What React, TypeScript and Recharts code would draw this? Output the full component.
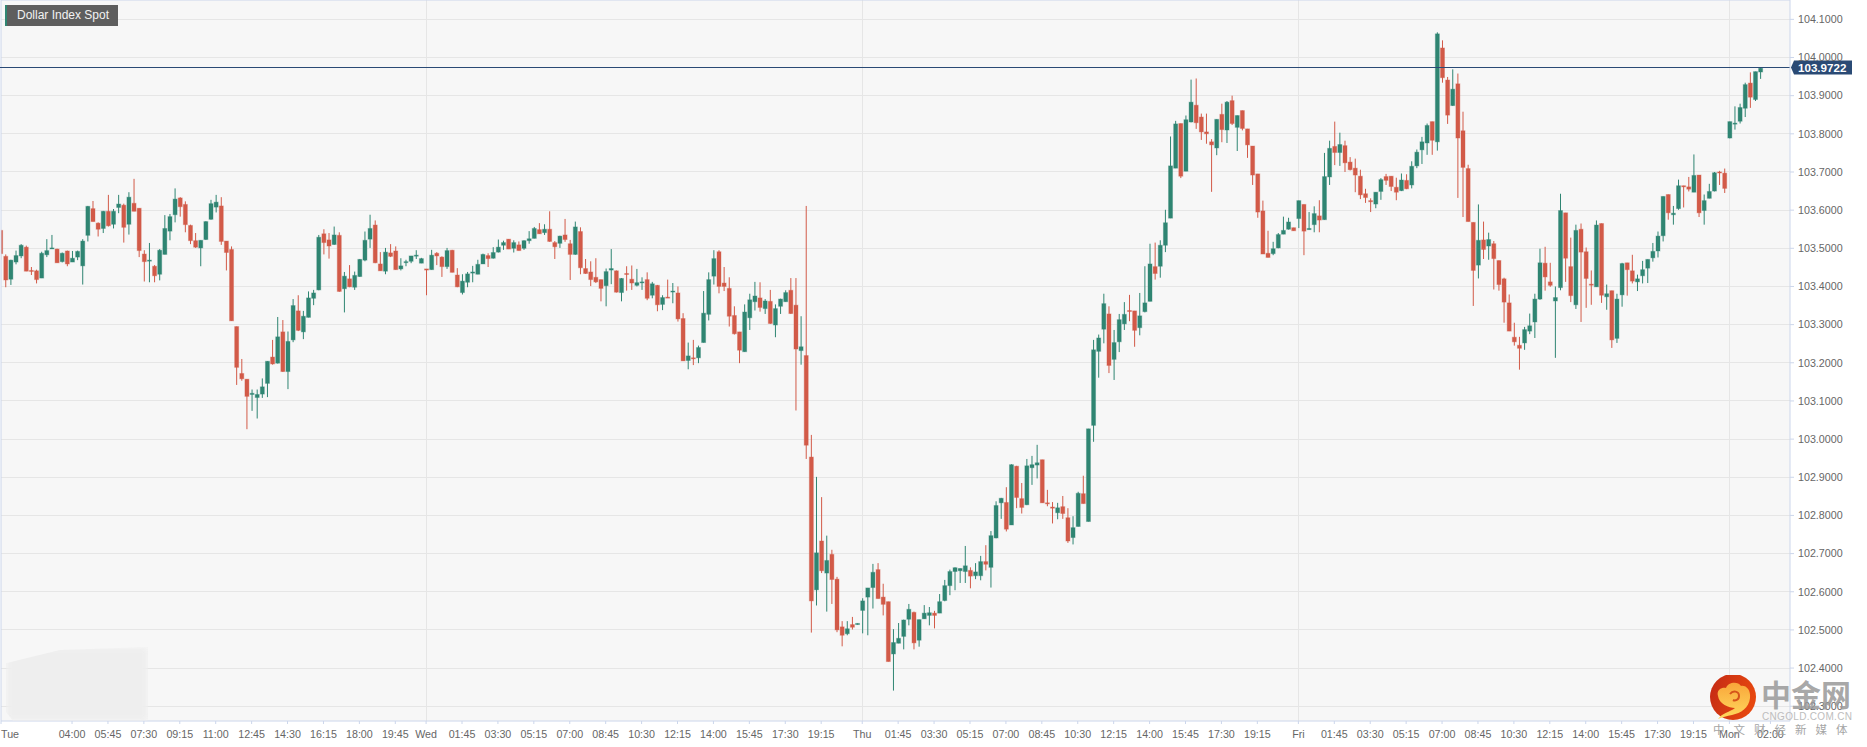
import React from 'react';
import {
  ComposedChart, Bar, XAxis, YAxis, CartesianGrid, ReferenceLine,
} from 'recharts';

// 15 minute candles
const opens = [
  103.547,103.479,103.419,103.464,103.480,103.503,103.442,103.441,103.422,103.483,
  103.499,103.498,103.465,103.493,103.464,103.477,103.454,103.534,103.604,103.566,
  103.552,103.597,103.563,103.607,103.613,103.563,103.618,103.605,103.485,103.467,
  103.453,103.432,103.484,103.545,103.588,103.632,103.615,103.560,103.520,103.501,
  103.523,103.576,103.608,103.611,103.519,103.497,103.295,103.172,103.157,103.117,
  103.109,103.118,103.146,103.215,103.199,103.281,103.177,103.260,103.336,103.281,
  103.319,103.369,103.391,103.538,103.522,103.510,103.534,103.394,103.420,103.398,
  103.426,103.469,103.524,103.561,103.459,103.440,103.488,103.493,103.446,103.463,
  103.466,103.480,103.461,103.446,103.444,103.487,103.477,103.452,103.495,103.430,
  103.384,103.411,103.435,103.432,103.459,103.481,103.474,103.490,103.508,103.524,
  103.500,103.509,103.500,103.520,103.526,103.549,103.541,103.550,103.515,103.513,
  103.535,103.512,103.484,103.544,103.447,103.438,103.424,103.418,103.402,103.443,
  103.441,103.384,103.434,103.419,103.403,103.410,103.418,103.377,103.403,103.353,
  103.372,103.386,103.383,103.316,103.206,103.213,103.213,103.253,103.327,103.427,
  103.491,103.409,103.395,103.324,103.281,103.229,103.318,103.360,103.370,103.342,
  103.361,103.299,103.348,103.360,103.390,103.351,103.232,103.219,102.953,102.605,
  102.733,102.649,102.698,102.633,102.508,102.490,102.514,102.514,102.551,102.586,
  102.611,102.658,102.586,102.574,102.437,102.465,102.483,102.528,102.546,102.473,
  102.529,102.538,102.544,102.544,102.577,102.616,102.653,102.655,102.653,102.656,
  102.642,102.642,102.679,102.664,102.741,102.833,102.834,102.775,102.929,102.844,
  102.828,102.925,102.932,102.946,102.833,102.822,102.807,102.823,102.794,102.742,
  102.771,102.857,102.784,103.036,103.230,103.288,103.328,103.209,103.255,103.302,
  103.337,103.336,103.292,103.334,103.361,103.452,103.453,103.508,103.579,103.710,
  103.827,103.702,103.831,103.875,103.844,103.805,103.779,103.763,103.851,103.810,
  103.887,103.817,103.861,103.813,103.768,103.695,103.598,103.487,103.486,103.501,
  103.537,103.550,103.554,103.578,103.615,103.549,103.562,103.585,103.575,103.687,
  103.767,103.751,103.769,103.726,103.710,103.689,103.643,103.625,103.616,103.649,
  103.688,103.689,103.660,103.651,103.678,103.666,103.716,103.758,103.776,103.832,
  103.779,104.025,103.941,103.874,103.931,103.808,103.709,103.568,103.456,103.522,
  103.506,103.512,103.468,103.420,103.357,103.267,103.246,103.252,103.283,103.307,
  103.367,103.461,103.412,103.362,103.397,103.593,103.452,103.352,103.550,103.491,
  103.406,103.399,103.565,103.373,103.389,103.264,103.378,103.462,103.441,103.412,
  103.428,103.448,103.475,103.493,103.533,103.641,103.588,103.604,103.664,103.661,
  103.647,103.692,103.599,103.631,103.650,103.700,103.697,103.789,103.826,103.833,
  103.867,103.933,103.890,103.962,
];

const highs = [
  103.549,103.484,103.470,103.494,103.511,103.507,103.451,103.444,103.491,103.524,
  103.535,103.499,103.489,103.494,103.493,103.494,103.524,103.611,103.624,103.568,
  103.598,103.640,103.603,103.640,103.617,103.647,103.682,103.605,103.495,103.514,
  103.456,103.498,103.587,103.590,103.657,103.634,103.623,103.562,103.540,103.521,
  103.571,103.627,103.640,103.634,103.519,103.505,103.295,103.210,103.157,103.130,
  103.130,103.159,103.204,103.260,103.320,103.312,103.282,103.367,103.377,103.336,
  103.387,103.391,103.535,103.550,103.540,103.557,103.542,103.438,103.456,103.439,
  103.472,103.544,103.588,103.573,103.490,103.501,103.511,103.505,103.474,103.470,
  103.480,103.495,103.475,103.446,103.496,103.490,103.479,103.501,103.496,103.448,
  103.432,103.438,103.454,103.470,103.486,103.487,103.503,103.523,103.520,103.524,
  103.521,103.518,103.521,103.545,103.556,103.566,103.563,103.597,103.519,103.533,
  103.577,103.522,103.570,103.555,103.472,103.466,103.474,103.418,103.447,103.498,
  103.442,103.422,103.453,103.455,103.446,103.424,103.437,103.412,103.404,103.377,
  103.418,103.409,103.400,103.330,103.253,103.260,103.245,103.388,103.437,103.495,
  103.495,103.451,103.424,103.348,103.281,103.353,103.381,103.412,103.411,103.367,
  103.391,103.353,103.368,103.390,103.422,103.422,103.322,103.611,103.011,102.901,
  102.848,102.747,102.710,102.639,102.523,102.523,102.534,102.517,102.583,102.610,
  102.673,102.675,102.621,102.574,102.502,102.518,102.527,102.568,102.548,102.527,
  102.565,102.560,102.550,102.594,102.631,102.658,102.664,102.661,102.720,102.664,
  102.675,102.694,102.722,102.759,102.837,102.846,102.874,102.934,102.930,102.885,
  102.948,102.956,102.985,102.946,102.867,102.835,102.833,102.851,102.819,102.798,
  102.862,102.904,103.027,103.260,103.274,103.381,103.348,103.286,103.328,103.359,
  103.378,103.336,103.383,103.453,103.512,103.515,103.521,103.601,103.793,103.834,
  103.827,103.848,103.942,103.945,103.853,103.853,103.786,103.838,103.879,103.886,
  103.900,103.848,103.861,103.813,103.768,103.695,103.625,103.546,103.517,103.540,
  103.583,103.580,103.554,103.625,103.615,103.595,103.610,103.626,103.750,103.782,
  103.832,103.803,103.782,103.739,103.735,103.706,103.656,103.631,103.647,103.684,
  103.695,103.689,103.685,103.696,103.694,103.728,103.759,103.792,103.827,103.832,
  104.066,104.045,103.949,103.969,103.958,103.858,103.719,103.568,103.615,103.570,
  103.541,103.519,103.468,103.423,103.379,103.305,103.268,103.294,103.329,103.381,
  103.499,103.504,103.462,103.400,103.643,103.593,103.528,103.562,103.565,103.502,
  103.442,103.573,103.565,103.405,103.389,103.381,103.462,103.462,103.483,103.431,
  103.467,103.471,103.514,103.544,103.636,103.641,103.611,103.680,103.664,103.687,
  103.746,103.692,103.641,103.669,103.700,103.703,103.709,103.832,103.872,103.879,
  103.934,103.961,103.963,103.974,
];

const lows = [
  103.470,103.398,103.404,103.458,103.474,103.440,103.430,103.408,103.422,103.477,
  103.499,103.462,103.463,103.453,103.464,103.469,103.405,103.518,103.570,103.531,
  103.540,103.557,103.552,103.592,103.515,103.536,103.597,103.477,103.413,103.411,
  103.411,103.416,103.484,103.521,103.568,103.583,103.542,103.511,103.501,103.453,
  103.522,103.575,103.594,103.509,103.442,103.310,103.142,103.153,103.026,103.074,
  103.054,103.108,103.110,103.195,103.198,103.176,103.131,103.254,103.283,103.262,
  103.319,103.351,103.390,103.484,103.473,103.509,103.386,103.332,103.398,103.391,
  103.425,103.466,103.501,103.461,103.441,103.432,103.477,103.444,103.442,103.453,
  103.461,103.472,103.461,103.377,103.444,103.456,103.425,103.446,103.437,103.398,
  103.379,103.398,103.411,103.432,103.459,103.451,103.473,103.489,103.496,103.498,
  103.489,103.494,103.496,103.512,103.526,103.538,103.535,103.517,103.472,103.501,
  103.517,103.417,103.483,103.432,103.433,103.401,103.409,103.361,103.348,103.406,
  103.384,103.361,103.389,103.391,103.400,103.391,103.364,103.369,103.335,103.338,
  103.370,103.356,103.308,103.205,103.183,103.194,103.199,103.253,103.311,103.405,
  103.382,103.388,103.295,103.274,103.199,103.229,103.286,103.337,103.334,103.328,
  103.302,103.267,103.328,103.360,103.328,103.075,103.195,102.948,102.493,102.564,
  102.649,102.548,102.568,102.494,102.457,102.486,102.501,102.514,102.491,102.486,
  102.556,102.582,102.538,102.417,102.341,102.465,102.449,102.512,102.449,102.456,
  102.529,102.512,102.504,102.544,102.575,102.591,102.604,102.623,102.623,102.609,
  102.633,102.630,102.656,102.611,102.740,102.791,102.758,102.775,102.819,102.805,
  102.827,102.880,102.897,102.833,102.824,102.779,102.790,102.791,102.728,102.724,
  102.771,102.831,102.784,102.993,103.161,103.251,103.173,103.155,103.228,103.286,
  103.309,103.242,103.272,103.332,103.361,103.418,103.423,103.490,103.579,103.710,
  103.684,103.702,103.830,103.813,103.784,103.774,103.648,103.744,103.778,103.776,
  103.823,103.755,103.809,103.737,103.666,103.580,103.485,103.476,103.482,103.500,
  103.537,103.549,103.546,103.553,103.482,103.549,103.542,103.542,103.575,103.666,
  103.718,103.716,103.700,103.704,103.647,103.629,103.619,103.595,103.605,103.627,
  103.666,103.650,103.626,103.650,103.655,103.657,103.710,103.721,103.745,103.745,
  103.756,103.934,103.826,103.873,103.632,103.582,103.570,103.349,103.421,103.472,
  103.470,103.392,103.389,103.305,103.283,103.245,103.182,103.234,103.275,103.265,
  103.365,103.389,103.399,103.213,103.390,103.412,103.359,103.341,103.307,103.344,
  103.352,103.399,103.357,103.339,103.239,103.252,103.347,103.376,103.408,103.388,
  103.408,103.409,103.465,103.476,103.518,103.575,103.562,103.601,103.607,103.649,
  103.647,103.582,103.562,103.631,103.649,103.666,103.645,103.788,103.811,103.827,
  103.844,103.868,103.886,103.944,
];

const closes = [
  103.486,103.417,103.469,103.481,103.508,103.440,103.441,103.418,103.487,103.494,
  103.501,103.462,103.487,103.459,103.474,103.492,103.519,103.610,103.570,103.550,
  103.597,103.559,103.597,103.616,103.555,103.634,103.597,103.494,103.465,103.469,
  103.428,103.495,103.552,103.583,103.629,103.609,103.562,103.520,103.503,103.521,
  103.570,103.617,103.621,103.518,103.489,103.310,103.188,103.158,103.112,103.120,
  103.117,103.137,103.204,103.197,103.268,103.177,103.256,103.350,103.285,103.322,
  103.370,103.383,103.529,103.515,103.506,103.535,103.387,103.427,103.399,103.429,
  103.471,103.521,103.552,103.462,103.441,103.490,103.479,103.444,103.454,103.465,
  103.480,103.482,103.473,103.443,103.482,103.480,103.452,103.494,103.437,103.399,
  103.414,103.433,103.438,103.458,103.484,103.473,103.489,103.503,103.515,103.498,
  103.515,103.494,103.520,103.525,103.552,103.538,103.550,103.518,103.504,103.532,
  103.523,103.484,103.556,103.449,103.434,103.418,103.412,103.395,103.439,103.447,
  103.385,103.421,103.432,103.409,103.410,103.412,103.369,103.407,103.352,103.371,
  103.370,103.388,103.315,103.205,103.218,103.212,103.240,103.330,103.418,103.473,
  103.400,103.400,103.322,103.276,103.233,103.333,103.365,103.375,103.345,103.362,
  103.303,103.342,103.367,103.384,103.329,103.236,103.242,102.984,102.576,102.702,
  102.655,102.682,102.632,102.500,102.486,102.503,102.507,102.517,102.576,102.610,
  102.651,102.582,102.567,102.417,102.467,102.478,102.526,102.554,102.466,102.527,
  102.544,102.545,102.538,102.574,102.616,102.653,102.663,102.661,102.668,102.641,
  102.652,102.679,102.672,102.747,102.826,102.845,102.764,102.933,102.847,102.821,
  102.930,102.933,102.938,102.833,102.831,102.819,102.820,102.805,102.733,102.768,
  102.858,102.831,103.027,103.234,103.265,103.355,103.193,103.253,103.313,103.327,
  103.335,103.285,103.323,103.357,103.459,103.434,103.508,103.567,103.716,103.826,
  103.689,103.837,103.883,103.829,103.805,103.800,103.771,103.838,103.811,103.883,
  103.827,103.848,103.814,103.771,103.692,103.595,103.485,103.476,103.499,103.536,
  103.547,103.569,103.546,103.625,103.545,103.552,103.591,103.574,103.688,103.762,
  103.751,103.772,103.724,103.706,103.692,103.640,103.633,103.622,103.647,103.680,
  103.678,103.662,103.647,103.679,103.656,103.715,103.752,103.779,103.822,103.783,
  104.062,103.947,103.849,103.917,103.789,103.712,103.570,103.442,103.521,103.497,
  103.523,103.473,103.405,103.359,103.283,103.255,103.238,103.287,103.297,103.367,
  103.462,103.425,103.403,103.371,103.599,103.474,103.376,103.547,103.490,103.421,
  103.404,103.561,103.377,103.381,103.260,103.367,103.460,103.444,103.414,103.420,
  103.444,103.471,103.492,103.532,103.636,103.593,103.592,103.664,103.661,103.655,
  103.691,103.593,103.625,103.649,103.698,103.698,103.657,103.832,103.828,103.869,
  103.929,103.896,103.963,103.972,
];

const xTickPositions = [
  0.16, 14, 21, 28, 35, 42, 49, 56, 63, 70, 77, 83, 90, 97, 104, 111, 118, 125, 132, 139, 146, 153, 160,
  168, 175, 182, 189, 196, 203, 210, 217, 224, 231, 238, 245, 253, 260, 267, 274, 281, 288, 295, 302,
  309, 316, 323, 330, 337, 345,
];
const xTickLabels = [
  'Tue', '04:00', '05:45', '07:30', '09:15', '11:00', '12:45', '14:30', '16:15', '18:00', '19:45', 'Wed',
  '01:45', '03:30', '05:15', '07:00', '08:45', '10:30', '12:15', '14:00', '15:45', '17:30', '19:15',
  'Thu', '01:45', '03:30', '05:15', '07:00', '08:45', '10:30', '12:15', '14:00', '15:45', '17:30', '19:15',
  'Fri', '01:45', '03:30', '05:15', '07:00', '08:45', '10:30', '12:15', '14:00', '15:45', '17:30', '19:15',
  'Mon', '02:00',
];
const dayLines = [83, 168, 253, 337];
const yTicks = [102.3, 102.4, 102.5, 102.6, 102.7, 102.8, 102.9, 103.0, 103.1, 103.2, 103.3, 103.4, 103.5, 103.6, 103.7, 103.8, 103.9, 104.0, 104.1];
const lastPrice = 103.9722;
const chartTitle = 'Dollar Index Spot';

const candles = opens.map((open, i) => ({
  i,
  open,
  high: highs[i],
  low: lows[i],
  close: closes[i],
  range: [lows[i], highs[i]],
}));

const UP = '#2f8572';
const DOWN = '#d25a48';
const AXIS_LINE = '#ccd6eb';
const GRID_LINE = '#e6e6e6';
const LAST_LINE = '#2a4a75';
const TICK_TEXT = '#666666';
const TICK_FONT = '"Liberation Sans", Arial, sans-serif';
const X_MIN = 0.156;
const X_MAX = 348.81;
const Y_MIN = 102.2613;
const Y_MAX = 104.1507;
const PLOT_RIGHT = 1790;

const crisp = (v: number) => Math.floor(v) + 0.5;

const Candle = (props: any) => {
  const { x, y, width, height, payload } = props;
  const { open, close, high, low } = payload;
  const color = close >= open ? UP : DOWN;
  const perUnit = high > low ? height / (high - low) : 0;
  const top = y + (high - Math.max(open, close)) * perUnit;
  const bodyH = Math.max(Math.abs(close - open) * perUnit, 1);
  const cx = x + width / 2;
  return (
    <g>
      <line x1={cx} x2={cx} y1={y} y2={y + height} stroke={color} strokeWidth={1} />
      <rect x={cx - 2} y={top} width={4} height={bodyH} fill={color} stroke={color} strokeOpacity={0.35} strokeWidth={1} />
    </g>
  );
};

const XTick = (props: any) => {
  const { x, payload } = props;
  const first = payload.index === 0;
  return (
    <text x={first ? 1 : x} y={738} textAnchor={first ? 'start' : 'middle'} fontSize={10.7} fontFamily={TICK_FONT} fill={TICK_TEXT}>
      {xTickLabels[payload.index]}
    </text>
  );
};

const PriceFlag = (props: any) => {
  const y = crisp(props.viewBox.y - 0.5);
  const left = props.viewBox.x + props.viewBox.width;
  return (
    <g>
      <polygon
        points={`${left + 1},${y} ${left + 4},${y - 7} ${left + 62},${y - 7} ${left + 62},${y + 7} ${left + 4},${y + 7}`}
        fill={LAST_LINE}
      />
      <text x={left + 8} y={y + 4} fontSize={11.6} fontWeight="bold" fontFamily={TICK_FONT} fill="#ffffff">
        {lastPrice.toFixed(4)}
      </text>
    </g>
  );
};

const Logo = () => (
  <svg width={150} height={70} style={{ position: 'absolute', left: 1708, top: 675 }}>
    <defs>
      <linearGradient id="logoRed" x1="0" y1="0" x2="1" y2="0.3">
        <stop offset="0%" stopColor="#c32a15" />
        <stop offset="100%" stopColor="#e6470f" />
      </linearGradient>
      <linearGradient id="logoYellow" x1="0" y1="0" x2="0" y2="1">
        <stop offset="0%" stopColor="#f9a63a" />
        <stop offset="100%" stopColor="#ffd95e" />
      </linearGradient>
    </defs>
    <circle cx={25} cy={22} r={23} fill="url(#logoRed)" />
    <path
      d="M10 21 C8 14 15 12 18 13 C20 7 30 6 33 11 C38 10 43 15 42 23 C41 33 33 38 24 40 C19 41 14 42 10 44 C14 38 22 37 27 33 C21 33 11 29 10 21 Z"
      fill="url(#logoYellow)"
    />
    <path d="M22 19 C25 15 31 16 31 21 C31 25 27 26 25 25" fill="none" stroke="#d5541a" strokeWidth={2} />
    <text x={53} y={31} fontSize={30} fontWeight="bold" fontFamily='"Noto Sans CJK SC"' fill="#999999" fillOpacity={0.85}>中金网</text>
    <text x={54} y={45} fontSize={10} textLength={90} lengthAdjust="spacing" fontFamily={TICK_FONT} fill="#bdbdbd">CNGOLD.COM.CN</text>
    <text x={5} y={59} fontSize={11.5} letterSpacing={9} fontFamily='"Noto Sans CJK SC"' fill="#a5a5a5">中文财经新媒体</text>
  </svg>
);

export default function App() {
  return (
    <div style={{ position: 'absolute', left: 0, top: 0, width: 1867, height: 747, background: '#ffffff', overflow: 'hidden' }}>
      <ComposedChart
        width={1867}
        height={747}
        data={candles}
        margin={{ top: 0, right: 0, bottom: 0, left: 1 }}
      >
        <CartesianGrid
          fill="#f7f7f7"
          stroke={GRID_LINE}
          horizontalValues={yTicks}
          verticalValues={dayLines}
          horizontal={(p: any) => <line key={p.key} x1={p.x1} x2={p.x2} y1={crisp(p.y1)} y2={crisp(p.y1)} stroke={GRID_LINE} />}
          vertical={(p: any) => <line key={p.key} x1={crisp(p.x1)} x2={crisp(p.x1)} y1={p.y1} y2={p.y2} stroke={GRID_LINE} />}
        />
        <XAxis
          dataKey="i"
          type="number"
          domain={[X_MIN, X_MAX]}
          ticks={xTickPositions}
          interval={0}
          height={26}
          stroke={AXIS_LINE}
          tickSize={3}
          tick={<XTick />}
          allowDataOverflow
        />
        <YAxis
          orientation="right"
          type="number"
          domain={[Y_MIN, Y_MAX]}
          ticks={yTicks}
          interval={0}
          width={77}
          stroke={AXIS_LINE}
          tickSize={4}
          tickMargin={4}
          tick={{ fill: TICK_TEXT, fontSize: 10.7, fontFamily: TICK_FONT }}
          tickFormatter={(v: number) => v.toFixed(4)}
          allowDataOverflow
        />
        <ReferenceLine x={X_MIN} stroke={AXIS_LINE} />
        <ReferenceLine y={Y_MAX} stroke={AXIS_LINE} />
        <Bar dataKey="range" barSize={4} shape={<Candle />} isAnimationActive={false} />
        <ReferenceLine
          y={lastPrice}
          label={<PriceFlag />}
          shape={(p: any) => {
            const y = crisp((p.y1 ?? p.y ?? 68) - 0.5);
            return <line x1={0} x2={PLOT_RIGHT} y1={y} y2={y} stroke={LAST_LINE} />;
          }}
        />
      </ComposedChart>

      {/* title tag */}
      <div
        style={{
          position: 'absolute', left: 5, top: 5, width: 113, height: 21, boxSizing: 'border-box',
          borderLeft: '2px solid #2f8572', background: '#5e5e5e', color: '#f2f2f2',
          font: '12px/21px "Liberation Sans", Arial, sans-serif', paddingLeft: 10,
        }}
      >
        {chartTitle}
      </div>

      {/* blurred-out patch bottom left */}
      <div
        style={{
          position: 'absolute', left: 6, top: 647, width: 142, height: 74, background: '#eeeeee',
          clipPath: 'polygon(0 22%, 38% 4%, 100% 0, 100% 100%, 5% 100%, 0 88%)', filter: 'blur(3px)',
        }}
      />
      <Logo />
    </div>
  );
}
